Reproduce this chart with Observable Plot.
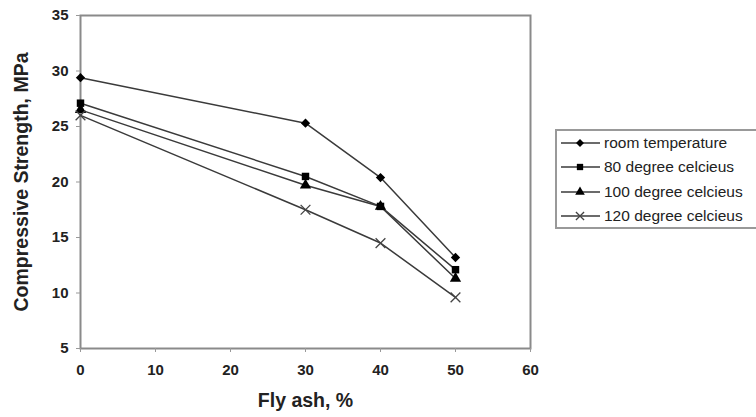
<!DOCTYPE html>
<html><head><meta charset="utf-8">
<script src="https://cdn.jsdelivr.net/npm/d3@7"></script>
<script src="https://cdn.jsdelivr.net/npm/@observablehq/plot@0.6"></script>
<style>
body{margin:0;background:#fff;}
#wrap{position:relative;width:756px;height:417px;overflow:hidden;font-family:"Liberation Sans",Arial,sans-serif;}
#legend{position:absolute;left:555px;top:129px;width:215px;height:100px;border:2px solid #999;background:#fff;box-sizing:border-box;}
.row{position:absolute;left:0;height:22px;display:flex;align-items:center;font-size:15.5px;color:#222;white-space:nowrap;}
.row svg{margin-right:2px;}
</style></head>
<body><div id="wrap"><div id="chart"></div><div id="legend"></div></div>
<script>
const flyAsh = [0, 30, 40, 50];
const seriesNames = ["room temperature", "80 degree celcieus", "100 degree celcieus", "120 degree celcieus"];
const roomTemp = [29.4, 25.3, 20.4, 13.2];
const deg80 = [27.1, 20.5, 17.8, 12.1];
const deg100 = [26.5, 19.7, 17.8, 11.3];
const deg120 = [26.0, 17.5, 14.5, 9.6];
const symbols = ["diamond2", "square", "triangle", "times"];
const xTicks = [0, 10, 20, 30, 40, 50, 60];
const yTicks = [5, 10, 15, 20, 25, 30, 35];

const allSeries = [roomTemp, deg80, deg100, deg120];
const data = [];
allSeries.forEach((vals, si) => vals.forEach((v, i) => data.push({series: seriesNames[si], sym: symbols[si], x: flyAsh[i], y: v})));

const ink = "#3a3a3a";
const chart = Plot.plot({
  width: 756, height: 417,
  marginLeft: 80, marginRight: 226, marginTop: 15, marginBottom: 69,
  style: {fontFamily: "Liberation Sans, Arial, sans-serif", fontSize: "15px", color: "#222", background: "white"},
  x: {domain: [0, 60], ticks: xTicks, label: null},
  y: {domain: [5, 35], ticks: yTicks, label: null},
  symbol: {domain: symbols, range: symbols},
  marks: [
    Plot.frame({stroke: "#8a8a8a", strokeWidth: 2}),
    Plot.axisX({ticks: xTicks, tickSize: 4, tickPadding: 12, stroke: "#999", fontSize: 15, fontWeight: "bold", label: "Fly ash, %", labelAnchor: "center", labelOffset: 58, labelArrow: "none"}),
    Plot.axisY({ticks: yTicks, tickSize: 4, tickPadding: 8, stroke: "#999", fontSize: 15, fontWeight: "bold", label: "Compressive Strength, MPa", labelAnchor: "center", labelOffset: 66, labelArrow: "none"}),
    Plot.line(data, {x: "x", y: "y", z: "series", stroke: ink, strokeWidth: 1.5}),
    Plot.dot(data.filter(d => d.sym !== "times"), {x: "x", y: "y", symbol: "sym", fill: "#000", stroke: "none", r: 4.2}),
    Plot.dot(data.filter(d => d.sym === "times"), {x: "x", y: "y", symbol: "sym", stroke: "#444", strokeWidth: 1.3, r: 4.5})
  ]
});
document.getElementById("chart").appendChild(chart);
chart.querySelectorAll("g[aria-label='x-axis label'] text, g[aria-label='y-axis label'] text").forEach(t => {t.style.fontWeight = "bold"; t.style.fontSize = "19.5px";});

const legend = document.getElementById("legend");
const symMap = {diamond2: d3.symbolDiamond2, square: d3.symbolSquare, triangle: d3.symbolTriangle, times: d3.symbolTimes};
seriesNames.forEach((name, i) => {
  const row = document.createElement("div");
  row.className = "row";
  row.style.top = (1 + i * 24.3) + "px";
  const svg = d3.create("svg").attr("width", 45).attr("height", 14);
  svg.append("line").attr("x1", 4).attr("x2", 43).attr("y1", 7).attr("y2", 7).attr("stroke", ink).attr("stroke-width", 1.3);
  const s = symbols[i];
  const path = d3.symbol(symMap[s], s === "times" ? 45 : 40)();
  svg.append("path").attr("d", path).attr("transform", "translate(23,7)")
    .attr("fill", s === "times" ? "none" : "#000").attr("stroke", s === "times" ? "#444" : "none").attr("stroke-width", 1.3);
  row.appendChild(svg.node());
  const span = document.createElement("span");
  span.textContent = name;
  row.appendChild(span);
  legend.appendChild(row);
});
</script></body></html>
